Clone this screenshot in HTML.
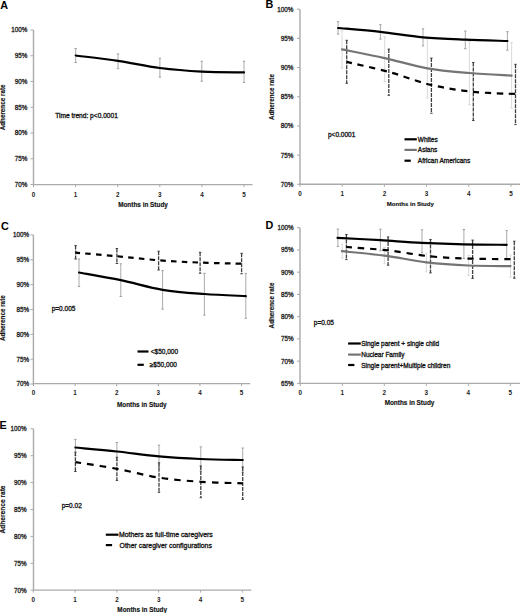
<!DOCTYPE html>
<html><head><meta charset="utf-8"><title>Adherence rate charts</title>
<style>
html,body{margin:0;padding:0;background:#fff;}
body{width:520px;height:613px;overflow:hidden;}
svg{display:block;}
text{font-family:"Liberation Sans", sans-serif;}
</style></head><body>
<svg width="520" height="613" viewBox="0 0 520 613">
<rect width="520" height="613" fill="#fff"/>
<line x1="33.5" y1="30" x2="33.5" y2="184.6" stroke="#aaaaaa" stroke-width="1.4"/>
<line x1="30.5" y1="30" x2="33.5" y2="30" stroke="#aaaaaa" stroke-width="1"/>
<text x="27.3" y="32.43" font-size="6.3" font-weight="400" text-anchor="end" fill="#222" stroke="#222" stroke-width="0.3" >100%</text>
<line x1="30.5" y1="55.75" x2="33.5" y2="55.75" stroke="#aaaaaa" stroke-width="1"/>
<text x="27.3" y="58.18" font-size="6.3" font-weight="400" text-anchor="end" fill="#222" stroke="#222" stroke-width="0.3" >95%</text>
<line x1="30.5" y1="81.5" x2="33.5" y2="81.5" stroke="#aaaaaa" stroke-width="1"/>
<text x="27.3" y="83.93" font-size="6.3" font-weight="400" text-anchor="end" fill="#222" stroke="#222" stroke-width="0.3" >90%</text>
<line x1="30.5" y1="107.25" x2="33.5" y2="107.25" stroke="#aaaaaa" stroke-width="1"/>
<text x="27.3" y="109.68" font-size="6.3" font-weight="400" text-anchor="end" fill="#222" stroke="#222" stroke-width="0.3" >85%</text>
<line x1="30.5" y1="133" x2="33.5" y2="133" stroke="#aaaaaa" stroke-width="1"/>
<text x="27.3" y="135.43" font-size="6.3" font-weight="400" text-anchor="end" fill="#222" stroke="#222" stroke-width="0.3" >80%</text>
<line x1="30.5" y1="158.75" x2="33.5" y2="158.75" stroke="#aaaaaa" stroke-width="1"/>
<text x="27.3" y="161.18" font-size="6.3" font-weight="400" text-anchor="end" fill="#222" stroke="#222" stroke-width="0.3" >75%</text>
<line x1="30.5" y1="184.5" x2="33.5" y2="184.5" stroke="#aaaaaa" stroke-width="1"/>
<text x="27.3" y="186.93" font-size="6.3" font-weight="400" text-anchor="end" fill="#222" stroke="#222" stroke-width="0.3" >70%</text>
<line x1="32.8" y1="184.6" x2="252.5" y2="184.6" stroke="#aaaaaa" stroke-width="1.4"/>
<line x1="33.5" y1="184.6" x2="33.5" y2="187.1" stroke="#aaaaaa" stroke-width="1"/>
<text x="33.5" y="196.63" font-size="6.3" font-weight="700" text-anchor="middle" fill="#222" >0</text>
<line x1="75.6" y1="184.6" x2="75.6" y2="187.1" stroke="#aaaaaa" stroke-width="1"/>
<text x="75.6" y="196.63" font-size="6.3" font-weight="700" text-anchor="middle" fill="#222" >1</text>
<line x1="117.7" y1="184.6" x2="117.7" y2="187.1" stroke="#aaaaaa" stroke-width="1"/>
<text x="117.7" y="196.63" font-size="6.3" font-weight="700" text-anchor="middle" fill="#222" >2</text>
<line x1="159.8" y1="184.6" x2="159.8" y2="187.1" stroke="#aaaaaa" stroke-width="1"/>
<text x="159.8" y="196.63" font-size="6.3" font-weight="700" text-anchor="middle" fill="#222" >3</text>
<line x1="201.9" y1="184.6" x2="201.9" y2="187.1" stroke="#aaaaaa" stroke-width="1"/>
<text x="201.9" y="196.63" font-size="6.3" font-weight="700" text-anchor="middle" fill="#222" >4</text>
<line x1="244" y1="184.6" x2="244" y2="187.1" stroke="#aaaaaa" stroke-width="1"/>
<text x="244" y="196.63" font-size="6.3" font-weight="700" text-anchor="middle" fill="#222" >5</text>
<text x="143" y="206.66" font-size="6.4" font-weight="700" text-anchor="middle" fill="#111" stroke="#111" stroke-width="0.15" >Months in Study</text>
<text transform="translate(5.37,107.4) rotate(-90)" font-size="6.3" font-weight="700" text-anchor="middle" fill="#111" stroke="#111" stroke-width="0.15">Adherence rate</text>
<text x="0.3" y="8.6" font-size="10.8" font-weight="700" fill="#000">A</text>
<line x1="75.7" y1="48.5" x2="75.7" y2="62.5" stroke="#a0a0a0" stroke-width="0.9" />
<line x1="74.5" y1="48.5" x2="76.9" y2="48.5" stroke="#a0a0a0" stroke-width="1"/>
<line x1="74.5" y1="62.5" x2="76.9" y2="62.5" stroke="#a0a0a0" stroke-width="1"/>
<line x1="118" y1="53.9" x2="118" y2="68.7" stroke="#a0a0a0" stroke-width="0.9" />
<line x1="116.8" y1="53.9" x2="119.2" y2="53.9" stroke="#a0a0a0" stroke-width="1"/>
<line x1="116.8" y1="68.7" x2="119.2" y2="68.7" stroke="#a0a0a0" stroke-width="1"/>
<line x1="159.9" y1="58.3" x2="159.9" y2="77.2" stroke="#a0a0a0" stroke-width="0.9" />
<line x1="158.7" y1="58.3" x2="161.1" y2="58.3" stroke="#a0a0a0" stroke-width="1"/>
<line x1="158.7" y1="77.2" x2="161.1" y2="77.2" stroke="#a0a0a0" stroke-width="1"/>
<line x1="201.8" y1="61.3" x2="201.8" y2="81.2" stroke="#a0a0a0" stroke-width="0.9" />
<line x1="200.6" y1="61.3" x2="203" y2="61.3" stroke="#a0a0a0" stroke-width="1"/>
<line x1="200.6" y1="81.2" x2="203" y2="81.2" stroke="#a0a0a0" stroke-width="1"/>
<line x1="244" y1="61.3" x2="244" y2="82.5" stroke="#a0a0a0" stroke-width="0.9" />
<line x1="242.8" y1="61.3" x2="245.2" y2="61.3" stroke="#a0a0a0" stroke-width="1"/>
<line x1="242.8" y1="82.5" x2="245.2" y2="82.5" stroke="#a0a0a0" stroke-width="1"/>
<path d="M75.7,55.5 C82.75,56.4 103.97,58.82 118,60.9 C132.03,62.98 145.93,66.22 159.9,68 C173.87,69.78 187.78,70.87 201.8,71.6 C215.82,72.33 236.97,72.27 244,72.4" fill="none" stroke="#000" stroke-width="2.2"  stroke-linecap="round"/>
<text x="55.2" y="118.14" font-size="6.6" font-weight="400" text-anchor="start" fill="#111" stroke="#111" stroke-width="0.3" >Time trend: p&lt;0.0001</text>
<line x1="300" y1="9.2" x2="300" y2="184.3" stroke="#aaaaaa" stroke-width="1.4"/>
<line x1="297" y1="9.2" x2="300" y2="9.2" stroke="#aaaaaa" stroke-width="1"/>
<text x="293.4" y="11.63" font-size="6.3" font-weight="400" text-anchor="end" fill="#222" stroke="#222" stroke-width="0.3" >100%</text>
<line x1="297" y1="38.38" x2="300" y2="38.38" stroke="#aaaaaa" stroke-width="1"/>
<text x="293.4" y="40.81" font-size="6.3" font-weight="400" text-anchor="end" fill="#222" stroke="#222" stroke-width="0.3" >95%</text>
<line x1="297" y1="67.56" x2="300" y2="67.56" stroke="#aaaaaa" stroke-width="1"/>
<text x="293.4" y="69.99" font-size="6.3" font-weight="400" text-anchor="end" fill="#222" stroke="#222" stroke-width="0.3" >90%</text>
<line x1="297" y1="96.74" x2="300" y2="96.74" stroke="#aaaaaa" stroke-width="1"/>
<text x="293.4" y="99.17" font-size="6.3" font-weight="400" text-anchor="end" fill="#222" stroke="#222" stroke-width="0.3" >85%</text>
<line x1="297" y1="125.92" x2="300" y2="125.92" stroke="#aaaaaa" stroke-width="1"/>
<text x="293.4" y="128.35" font-size="6.3" font-weight="400" text-anchor="end" fill="#222" stroke="#222" stroke-width="0.3" >80%</text>
<line x1="297" y1="155.1" x2="300" y2="155.1" stroke="#aaaaaa" stroke-width="1"/>
<text x="293.4" y="157.53" font-size="6.3" font-weight="400" text-anchor="end" fill="#222" stroke="#222" stroke-width="0.3" >75%</text>
<line x1="297" y1="184.28" x2="300" y2="184.28" stroke="#aaaaaa" stroke-width="1"/>
<text x="293.4" y="186.71" font-size="6.3" font-weight="400" text-anchor="end" fill="#222" stroke="#222" stroke-width="0.3" >70%</text>
<line x1="299.3" y1="184.3" x2="520" y2="184.3" stroke="#aaaaaa" stroke-width="1.4"/>
<line x1="300" y1="184.3" x2="300" y2="186.8" stroke="#aaaaaa" stroke-width="1"/>
<text x="300" y="195.83" font-size="6.3" font-weight="700" text-anchor="middle" fill="#222" >0</text>
<line x1="342.2" y1="184.3" x2="342.2" y2="186.8" stroke="#aaaaaa" stroke-width="1"/>
<text x="342.2" y="195.83" font-size="6.3" font-weight="700" text-anchor="middle" fill="#222" >1</text>
<line x1="384.4" y1="184.3" x2="384.4" y2="186.8" stroke="#aaaaaa" stroke-width="1"/>
<text x="384.4" y="195.83" font-size="6.3" font-weight="700" text-anchor="middle" fill="#222" >2</text>
<line x1="426.6" y1="184.3" x2="426.6" y2="186.8" stroke="#aaaaaa" stroke-width="1"/>
<text x="426.6" y="195.83" font-size="6.3" font-weight="700" text-anchor="middle" fill="#222" >3</text>
<line x1="468.8" y1="184.3" x2="468.8" y2="186.8" stroke="#aaaaaa" stroke-width="1"/>
<text x="468.8" y="195.83" font-size="6.3" font-weight="700" text-anchor="middle" fill="#222" >4</text>
<line x1="511" y1="184.3" x2="511" y2="186.8" stroke="#aaaaaa" stroke-width="1"/>
<text x="511" y="195.83" font-size="6.3" font-weight="700" text-anchor="middle" fill="#222" >5</text>
<text x="410.3" y="206.13" font-size="6.05" font-weight="700" text-anchor="middle" fill="#111" stroke="#111" stroke-width="0.15" >Months in Study</text>
<text transform="translate(274.37,97) rotate(-90)" font-size="6.3" font-weight="700" text-anchor="middle" fill="#111" stroke="#111" stroke-width="0.15">Adherence rate</text>
<text x="265.6" y="8.2" font-size="10.8" font-weight="700" fill="#000">B</text>
<line x1="338.1" y1="21.7" x2="338.1" y2="34.1" stroke="#a0a0a0" stroke-width="0.9" />
<line x1="336.9" y1="21.7" x2="339.3" y2="21.7" stroke="#a0a0a0" stroke-width="1"/>
<line x1="336.9" y1="34.1" x2="339.3" y2="34.1" stroke="#a0a0a0" stroke-width="1"/>
<line x1="380.4" y1="24.7" x2="380.4" y2="39.1" stroke="#a0a0a0" stroke-width="0.9" />
<line x1="379.2" y1="24.7" x2="381.6" y2="24.7" stroke="#a0a0a0" stroke-width="1"/>
<line x1="379.2" y1="39.1" x2="381.6" y2="39.1" stroke="#a0a0a0" stroke-width="1"/>
<line x1="423" y1="28.8" x2="423" y2="45.9" stroke="#a0a0a0" stroke-width="0.9" />
<line x1="421.8" y1="28.8" x2="424.2" y2="28.8" stroke="#a0a0a0" stroke-width="1"/>
<line x1="421.8" y1="45.9" x2="424.2" y2="45.9" stroke="#a0a0a0" stroke-width="1"/>
<line x1="465.3" y1="31.1" x2="465.3" y2="48.7" stroke="#a0a0a0" stroke-width="0.9" />
<line x1="464.1" y1="31.1" x2="466.5" y2="31.1" stroke="#a0a0a0" stroke-width="1"/>
<line x1="464.1" y1="48.7" x2="466.5" y2="48.7" stroke="#a0a0a0" stroke-width="1"/>
<line x1="507.4" y1="31.7" x2="507.4" y2="50.2" stroke="#a0a0a0" stroke-width="0.9" />
<line x1="506.2" y1="31.7" x2="508.6" y2="31.7" stroke="#a0a0a0" stroke-width="1"/>
<line x1="506.2" y1="50.2" x2="508.6" y2="50.2" stroke="#a0a0a0" stroke-width="1"/>
<line x1="342" y1="30.9" x2="342" y2="68" stroke="#d6d6d6" stroke-width="0.9" />
<line x1="340.8" y1="30.9" x2="343.2" y2="30.9" stroke="#d6d6d6" stroke-width="1"/>
<line x1="340.8" y1="68" x2="343.2" y2="68" stroke="#d6d6d6" stroke-width="1"/>
<line x1="384.7" y1="36.9" x2="384.7" y2="81.4" stroke="#d6d6d6" stroke-width="0.9" />
<line x1="383.5" y1="36.9" x2="385.9" y2="36.9" stroke="#d6d6d6" stroke-width="1"/>
<line x1="383.5" y1="81.4" x2="385.9" y2="81.4" stroke="#d6d6d6" stroke-width="1"/>
<line x1="427.4" y1="38.7" x2="427.4" y2="98" stroke="#d6d6d6" stroke-width="0.9" />
<line x1="426.2" y1="38.7" x2="428.6" y2="38.7" stroke="#d6d6d6" stroke-width="1"/>
<line x1="426.2" y1="98" x2="428.6" y2="98" stroke="#d6d6d6" stroke-width="1"/>
<line x1="469.4" y1="41.5" x2="469.4" y2="104.7" stroke="#d6d6d6" stroke-width="0.9" />
<line x1="468.2" y1="41.5" x2="470.6" y2="41.5" stroke="#d6d6d6" stroke-width="1"/>
<line x1="468.2" y1="104.7" x2="470.6" y2="104.7" stroke="#d6d6d6" stroke-width="1"/>
<line x1="511.6" y1="42.4" x2="511.6" y2="108" stroke="#d6d6d6" stroke-width="0.9" />
<line x1="510.4" y1="42.4" x2="512.8" y2="42.4" stroke="#d6d6d6" stroke-width="1"/>
<line x1="510.4" y1="108" x2="512.8" y2="108" stroke="#d6d6d6" stroke-width="1"/>
<line x1="346.7" y1="40.3" x2="346.7" y2="83.3" stroke="#404040" stroke-width="1.3" stroke-dasharray="4 1"/>
<line x1="345.5" y1="40.3" x2="347.9" y2="40.3" stroke="#404040" stroke-width="1"/>
<line x1="345.5" y1="83.3" x2="347.9" y2="83.3" stroke="#404040" stroke-width="1"/>
<line x1="388.8" y1="49.1" x2="388.8" y2="95.3" stroke="#404040" stroke-width="1.3" stroke-dasharray="4 1"/>
<line x1="387.6" y1="49.1" x2="390" y2="49.1" stroke="#404040" stroke-width="1"/>
<line x1="387.6" y1="95.3" x2="390" y2="95.3" stroke="#404040" stroke-width="1"/>
<line x1="431.4" y1="58.1" x2="431.4" y2="113.2" stroke="#404040" stroke-width="1.3" stroke-dasharray="4 1"/>
<line x1="430.2" y1="58.1" x2="432.6" y2="58.1" stroke="#404040" stroke-width="1"/>
<line x1="430.2" y1="113.2" x2="432.6" y2="113.2" stroke="#404040" stroke-width="1"/>
<line x1="473.3" y1="62.5" x2="473.3" y2="120.5" stroke="#404040" stroke-width="1.3" stroke-dasharray="4 1"/>
<line x1="472.1" y1="62.5" x2="474.5" y2="62.5" stroke="#404040" stroke-width="1"/>
<line x1="472.1" y1="120.5" x2="474.5" y2="120.5" stroke="#404040" stroke-width="1"/>
<line x1="515.5" y1="64.3" x2="515.5" y2="124.6" stroke="#404040" stroke-width="1.3" stroke-dasharray="4 1"/>
<line x1="514.3" y1="64.3" x2="516.7" y2="64.3" stroke="#404040" stroke-width="1"/>
<line x1="514.3" y1="124.6" x2="516.7" y2="124.6" stroke="#404040" stroke-width="1"/>
<path d="M338.1,28 C345.15,28.65 366.25,30.35 380.4,31.9 C394.55,33.45 408.85,36 423,37.3 C437.15,38.6 451.23,39.08 465.3,39.7 C479.37,40.32 500.38,40.78 507.4,41" fill="none" stroke="#000" stroke-width="2.2"  stroke-linecap="round"/>
<path d="M342,49.4 C349.12,50.85 370.47,54.95 384.7,58.1 C398.93,61.25 413.28,65.82 427.4,68.3 C441.52,70.78 455.37,71.78 469.4,73 C483.43,74.22 504.57,75.17 511.6,75.6" fill="none" stroke="#747474" stroke-width="2.2"  stroke-linecap="round"/>
<path d="M346.7,61.9 C353.72,63.57 374.68,68.05 388.8,71.9 C402.92,75.75 417.32,81.68 431.4,85 C445.48,88.32 459.28,90.3 473.3,91.8 C487.32,93.3 508.47,93.63 515.5,94" fill="none" stroke="#000" stroke-width="2.2" stroke-dasharray="6.2 5.69" stroke-dashoffset="0.73" />
<line x1="404.5" y1="139.3" x2="416.8" y2="139.3" stroke="#000" stroke-width="2.2"/>
<text x="417.8" y="141.8" font-size="6.5" font-weight="400" text-anchor="start" fill="#111" stroke="#111" stroke-width="0.3" >Whites</text>
<line x1="404.5" y1="149.9" x2="416.8" y2="149.9" stroke="#747474" stroke-width="2.2"/>
<text x="417.8" y="152.4" font-size="6.5" font-weight="400" text-anchor="start" fill="#111" stroke="#111" stroke-width="0.3" >Asians</text>
<line x1="404.5" y1="160.7" x2="410.8" y2="160.7" stroke="#000" stroke-width="2.2"/>
<text x="417.8" y="163.2" font-size="6.5" font-weight="400" text-anchor="start" fill="#111" stroke="#111" stroke-width="0.3" >African Americans</text>
<text x="328" y="137.2" font-size="6.5" font-weight="400" text-anchor="start" fill="#111" stroke="#111" stroke-width="0.3" >p&lt;0.0001</text>
<line x1="33.4" y1="234.9" x2="33.4" y2="383.6" stroke="#aaaaaa" stroke-width="1.4"/>
<line x1="30.4" y1="234.9" x2="33.4" y2="234.9" stroke="#aaaaaa" stroke-width="1"/>
<text x="29.1" y="237.33" font-size="6.3" font-weight="400" text-anchor="end" fill="#222" stroke="#222" stroke-width="0.3" >100%</text>
<line x1="30.4" y1="259.75" x2="33.4" y2="259.75" stroke="#aaaaaa" stroke-width="1"/>
<text x="29.1" y="262.18" font-size="6.3" font-weight="400" text-anchor="end" fill="#222" stroke="#222" stroke-width="0.3" >95%</text>
<line x1="30.4" y1="284.6" x2="33.4" y2="284.6" stroke="#aaaaaa" stroke-width="1"/>
<text x="29.1" y="287.03" font-size="6.3" font-weight="400" text-anchor="end" fill="#222" stroke="#222" stroke-width="0.3" >90%</text>
<line x1="30.4" y1="309.45" x2="33.4" y2="309.45" stroke="#aaaaaa" stroke-width="1"/>
<text x="29.1" y="311.88" font-size="6.3" font-weight="400" text-anchor="end" fill="#222" stroke="#222" stroke-width="0.3" >85%</text>
<line x1="30.4" y1="334.3" x2="33.4" y2="334.3" stroke="#aaaaaa" stroke-width="1"/>
<text x="29.1" y="336.73" font-size="6.3" font-weight="400" text-anchor="end" fill="#222" stroke="#222" stroke-width="0.3" >80%</text>
<line x1="30.4" y1="359.15" x2="33.4" y2="359.15" stroke="#aaaaaa" stroke-width="1"/>
<text x="29.1" y="361.58" font-size="6.3" font-weight="400" text-anchor="end" fill="#222" stroke="#222" stroke-width="0.3" >75%</text>
<line x1="30.4" y1="384" x2="33.4" y2="384" stroke="#aaaaaa" stroke-width="1"/>
<text x="29.1" y="386.43" font-size="6.3" font-weight="400" text-anchor="end" fill="#222" stroke="#222" stroke-width="0.3" >70%</text>
<line x1="32.699999999999996" y1="383.6" x2="250.2" y2="383.6" stroke="#aaaaaa" stroke-width="1.4"/>
<line x1="33.5" y1="383.6" x2="33.5" y2="386.1" stroke="#aaaaaa" stroke-width="1"/>
<text x="33.5" y="394.53" font-size="6.3" font-weight="700" text-anchor="middle" fill="#222" >0</text>
<line x1="75.1" y1="383.6" x2="75.1" y2="386.1" stroke="#aaaaaa" stroke-width="1"/>
<text x="75.1" y="394.53" font-size="6.3" font-weight="700" text-anchor="middle" fill="#222" >1</text>
<line x1="116.7" y1="383.6" x2="116.7" y2="386.1" stroke="#aaaaaa" stroke-width="1"/>
<text x="116.7" y="394.53" font-size="6.3" font-weight="700" text-anchor="middle" fill="#222" >2</text>
<line x1="158.3" y1="383.6" x2="158.3" y2="386.1" stroke="#aaaaaa" stroke-width="1"/>
<text x="158.3" y="394.53" font-size="6.3" font-weight="700" text-anchor="middle" fill="#222" >3</text>
<line x1="199.9" y1="383.6" x2="199.9" y2="386.1" stroke="#aaaaaa" stroke-width="1"/>
<text x="199.9" y="394.53" font-size="6.3" font-weight="700" text-anchor="middle" fill="#222" >4</text>
<line x1="241.5" y1="383.6" x2="241.5" y2="386.1" stroke="#aaaaaa" stroke-width="1"/>
<text x="241.5" y="394.53" font-size="6.3" font-weight="700" text-anchor="middle" fill="#222" >5</text>
<text x="141.8" y="406.66" font-size="6.4" font-weight="700" text-anchor="middle" fill="#111" stroke="#111" stroke-width="0.15" >Months in Study</text>
<text transform="translate(5.37,318.2) rotate(-90)" font-size="6.3" font-weight="700" text-anchor="middle" fill="#111" stroke="#111" stroke-width="0.15">Adherence rate</text>
<text x="1.0" y="229.8" font-size="10.8" font-weight="700" fill="#000">C</text>
<line x1="79" y1="259" x2="79" y2="286.5" stroke="#a0a0a0" stroke-width="0.9" />
<line x1="77.8" y1="259" x2="80.2" y2="259" stroke="#a0a0a0" stroke-width="1"/>
<line x1="77.8" y1="286.5" x2="80.2" y2="286.5" stroke="#a0a0a0" stroke-width="1"/>
<line x1="120.8" y1="263.8" x2="120.8" y2="296.5" stroke="#a0a0a0" stroke-width="0.9" />
<line x1="119.6" y1="263.8" x2="122" y2="263.8" stroke="#a0a0a0" stroke-width="1"/>
<line x1="119.6" y1="296.5" x2="122" y2="296.5" stroke="#a0a0a0" stroke-width="1"/>
<line x1="162.6" y1="270.6" x2="162.6" y2="309.2" stroke="#a0a0a0" stroke-width="0.9" />
<line x1="161.4" y1="270.6" x2="163.8" y2="270.6" stroke="#a0a0a0" stroke-width="1"/>
<line x1="161.4" y1="309.2" x2="163.8" y2="309.2" stroke="#a0a0a0" stroke-width="1"/>
<line x1="204.4" y1="273.4" x2="204.4" y2="315.1" stroke="#a0a0a0" stroke-width="0.9" />
<line x1="203.2" y1="273.4" x2="205.6" y2="273.4" stroke="#a0a0a0" stroke-width="1"/>
<line x1="203.2" y1="315.1" x2="205.6" y2="315.1" stroke="#a0a0a0" stroke-width="1"/>
<line x1="245.8" y1="273.4" x2="245.8" y2="318.3" stroke="#a0a0a0" stroke-width="0.9" />
<line x1="244.6" y1="273.4" x2="247" y2="273.4" stroke="#a0a0a0" stroke-width="1"/>
<line x1="244.6" y1="318.3" x2="247" y2="318.3" stroke="#a0a0a0" stroke-width="1"/>
<line x1="75.6" y1="245.6" x2="75.6" y2="259" stroke="#404040" stroke-width="1.3" stroke-dasharray="4 1"/>
<line x1="74.4" y1="245.6" x2="76.8" y2="245.6" stroke="#404040" stroke-width="1"/>
<line x1="74.4" y1="259" x2="76.8" y2="259" stroke="#404040" stroke-width="1"/>
<line x1="116.9" y1="248.5" x2="116.9" y2="263.5" stroke="#404040" stroke-width="1.3" stroke-dasharray="4 1"/>
<line x1="115.7" y1="248.5" x2="118.1" y2="248.5" stroke="#404040" stroke-width="1"/>
<line x1="115.7" y1="263.5" x2="118.1" y2="263.5" stroke="#404040" stroke-width="1"/>
<line x1="158.6" y1="251.2" x2="158.6" y2="270" stroke="#404040" stroke-width="1.3" stroke-dasharray="4 1"/>
<line x1="157.4" y1="251.2" x2="159.8" y2="251.2" stroke="#404040" stroke-width="1"/>
<line x1="157.4" y1="270" x2="159.8" y2="270" stroke="#404040" stroke-width="1"/>
<line x1="200.1" y1="252.3" x2="200.1" y2="273.2" stroke="#404040" stroke-width="1.3" stroke-dasharray="4 1"/>
<line x1="198.9" y1="252.3" x2="201.3" y2="252.3" stroke="#404040" stroke-width="1"/>
<line x1="198.9" y1="273.2" x2="201.3" y2="273.2" stroke="#404040" stroke-width="1"/>
<line x1="241.6" y1="253.3" x2="241.6" y2="273.8" stroke="#404040" stroke-width="1.3" stroke-dasharray="4 1"/>
<line x1="240.4" y1="253.3" x2="242.8" y2="253.3" stroke="#404040" stroke-width="1"/>
<line x1="240.4" y1="273.8" x2="242.8" y2="273.8" stroke="#404040" stroke-width="1"/>
<path d="M79,272.5 C85.97,273.78 106.87,277.32 120.8,280.2 C134.73,283.08 148.67,287.5 162.6,289.8 C176.53,292.1 190.53,292.95 204.4,294 C218.27,295.05 238.9,295.75 245.8,296.1" fill="none" stroke="#000" stroke-width="2.2"  stroke-linecap="round"/>
<path d="M75.6,252.7 C82.48,253.28 103.07,254.93 116.9,256.2 C130.73,257.47 144.73,259.23 158.6,260.3 C172.47,261.37 186.27,262.03 200.1,262.6 C213.93,263.17 234.68,263.52 241.6,263.7" fill="none" stroke="#000" stroke-width="2.2" stroke-dasharray="5.5 5.25" stroke-dashoffset="0.95" />
<line x1="137.5" y1="351.5" x2="148.5" y2="351.5" stroke="#000" stroke-width="2.2"/>
<text x="150.8" y="354" font-size="6.5" font-weight="400" text-anchor="start" fill="#111" stroke="#111" stroke-width="0.3" >&lt;$50,000</text>
<line x1="137.5" y1="364.8" x2="143.8" y2="364.8" stroke="#000" stroke-width="2.2"/>
<text x="149.8" y="367.3" font-size="6.5" font-weight="400" text-anchor="start" fill="#111" stroke="#111" stroke-width="0.3" >≥$50,000</text>
<text x="51.7" y="310.8" font-size="6.5" font-weight="400" text-anchor="start" fill="#111" stroke="#111" stroke-width="0.3" >p=0.005</text>
<line x1="300" y1="227.7" x2="300" y2="383.4" stroke="#aaaaaa" stroke-width="1.4"/>
<line x1="297" y1="227.7" x2="300" y2="227.7" stroke="#aaaaaa" stroke-width="1"/>
<text x="293.7" y="230.13" font-size="6.3" font-weight="400" text-anchor="end" fill="#222" stroke="#222" stroke-width="0.3" >100%</text>
<line x1="297" y1="249.94" x2="300" y2="249.94" stroke="#aaaaaa" stroke-width="1"/>
<text x="293.7" y="252.37" font-size="6.3" font-weight="400" text-anchor="end" fill="#222" stroke="#222" stroke-width="0.3" >95%</text>
<line x1="297" y1="272.18" x2="300" y2="272.18" stroke="#aaaaaa" stroke-width="1"/>
<text x="293.7" y="274.61" font-size="6.3" font-weight="400" text-anchor="end" fill="#222" stroke="#222" stroke-width="0.3" >90%</text>
<line x1="297" y1="294.42" x2="300" y2="294.42" stroke="#aaaaaa" stroke-width="1"/>
<text x="293.7" y="296.85" font-size="6.3" font-weight="400" text-anchor="end" fill="#222" stroke="#222" stroke-width="0.3" >85%</text>
<line x1="297" y1="316.66" x2="300" y2="316.66" stroke="#aaaaaa" stroke-width="1"/>
<text x="293.7" y="319.09" font-size="6.3" font-weight="400" text-anchor="end" fill="#222" stroke="#222" stroke-width="0.3" >80%</text>
<line x1="297" y1="338.9" x2="300" y2="338.9" stroke="#aaaaaa" stroke-width="1"/>
<text x="293.7" y="341.33" font-size="6.3" font-weight="400" text-anchor="end" fill="#222" stroke="#222" stroke-width="0.3" >75%</text>
<line x1="297" y1="361.14" x2="300" y2="361.14" stroke="#aaaaaa" stroke-width="1"/>
<text x="293.7" y="363.57" font-size="6.3" font-weight="400" text-anchor="end" fill="#222" stroke="#222" stroke-width="0.3" >70%</text>
<line x1="297" y1="383.38" x2="300" y2="383.38" stroke="#aaaaaa" stroke-width="1"/>
<text x="293.7" y="385.81" font-size="6.3" font-weight="400" text-anchor="end" fill="#222" stroke="#222" stroke-width="0.3" >65%</text>
<line x1="299.3" y1="383.4" x2="520" y2="383.4" stroke="#aaaaaa" stroke-width="1.4"/>
<line x1="300.3" y1="383.4" x2="300.3" y2="385.9" stroke="#aaaaaa" stroke-width="1"/>
<text x="300.3" y="394.83" font-size="6.3" font-weight="700" text-anchor="middle" fill="#222" >0</text>
<line x1="342.3" y1="383.4" x2="342.3" y2="385.9" stroke="#aaaaaa" stroke-width="1"/>
<text x="342.3" y="394.83" font-size="6.3" font-weight="700" text-anchor="middle" fill="#222" >1</text>
<line x1="384.3" y1="383.4" x2="384.3" y2="385.9" stroke="#aaaaaa" stroke-width="1"/>
<text x="384.3" y="394.83" font-size="6.3" font-weight="700" text-anchor="middle" fill="#222" >2</text>
<line x1="426.3" y1="383.4" x2="426.3" y2="385.9" stroke="#aaaaaa" stroke-width="1"/>
<text x="426.3" y="394.83" font-size="6.3" font-weight="700" text-anchor="middle" fill="#222" >3</text>
<line x1="468.3" y1="383.4" x2="468.3" y2="385.9" stroke="#aaaaaa" stroke-width="1"/>
<text x="468.3" y="394.83" font-size="6.3" font-weight="700" text-anchor="middle" fill="#222" >4</text>
<line x1="510.3" y1="383.4" x2="510.3" y2="385.9" stroke="#aaaaaa" stroke-width="1"/>
<text x="510.3" y="394.83" font-size="6.3" font-weight="700" text-anchor="middle" fill="#222" >5</text>
<text x="409.5" y="404.86" font-size="6.4" font-weight="700" text-anchor="middle" fill="#111" stroke="#111" stroke-width="0.15" >Months in Study</text>
<text transform="translate(274.37,305.5) rotate(-90)" font-size="6.3" font-weight="700" text-anchor="middle" fill="#111" stroke="#111" stroke-width="0.15">Adherence rate</text>
<text x="265.6" y="229.3" font-size="10.8" font-weight="700" fill="#000">D</text>
<line x1="337.9" y1="229.1" x2="337.9" y2="246.5" stroke="#a0a0a0" stroke-width="0.9" />
<line x1="336.7" y1="229.1" x2="339.1" y2="229.1" stroke="#a0a0a0" stroke-width="1"/>
<line x1="336.7" y1="246.5" x2="339.1" y2="246.5" stroke="#a0a0a0" stroke-width="1"/>
<line x1="380.4" y1="229.2" x2="380.4" y2="250.8" stroke="#a0a0a0" stroke-width="0.9" />
<line x1="379.2" y1="229.2" x2="381.6" y2="229.2" stroke="#a0a0a0" stroke-width="1"/>
<line x1="379.2" y1="250.8" x2="381.6" y2="250.8" stroke="#a0a0a0" stroke-width="1"/>
<line x1="422" y1="229.8" x2="422" y2="252.8" stroke="#a0a0a0" stroke-width="0.9" />
<line x1="420.8" y1="229.8" x2="423.2" y2="229.8" stroke="#a0a0a0" stroke-width="1"/>
<line x1="420.8" y1="252.8" x2="423.2" y2="252.8" stroke="#a0a0a0" stroke-width="1"/>
<line x1="463.9" y1="229.5" x2="463.9" y2="258.5" stroke="#a0a0a0" stroke-width="0.9" />
<line x1="462.7" y1="229.5" x2="465.1" y2="229.5" stroke="#a0a0a0" stroke-width="1"/>
<line x1="462.7" y1="258.5" x2="465.1" y2="258.5" stroke="#a0a0a0" stroke-width="1"/>
<line x1="506.7" y1="230.6" x2="506.7" y2="259.1" stroke="#a0a0a0" stroke-width="0.9" />
<line x1="505.5" y1="230.6" x2="507.9" y2="230.6" stroke="#a0a0a0" stroke-width="1"/>
<line x1="505.5" y1="259.1" x2="507.9" y2="259.1" stroke="#a0a0a0" stroke-width="1"/>
<line x1="342.2" y1="244.1" x2="342.2" y2="258" stroke="#d6d6d6" stroke-width="0.9" />
<line x1="341" y1="244.1" x2="343.4" y2="244.1" stroke="#d6d6d6" stroke-width="1"/>
<line x1="341" y1="258" x2="343.4" y2="258" stroke="#d6d6d6" stroke-width="1"/>
<line x1="384.4" y1="247.4" x2="384.4" y2="263.8" stroke="#d6d6d6" stroke-width="0.9" />
<line x1="383.2" y1="247.4" x2="385.6" y2="247.4" stroke="#d6d6d6" stroke-width="1"/>
<line x1="383.2" y1="263.8" x2="385.6" y2="263.8" stroke="#d6d6d6" stroke-width="1"/>
<line x1="426.4" y1="253.4" x2="426.4" y2="271.8" stroke="#d6d6d6" stroke-width="0.9" />
<line x1="425.2" y1="253.4" x2="427.6" y2="253.4" stroke="#d6d6d6" stroke-width="1"/>
<line x1="425.2" y1="271.8" x2="427.6" y2="271.8" stroke="#d6d6d6" stroke-width="1"/>
<line x1="468.6" y1="255.6" x2="468.6" y2="275.4" stroke="#d6d6d6" stroke-width="0.9" />
<line x1="467.4" y1="255.6" x2="469.8" y2="255.6" stroke="#d6d6d6" stroke-width="1"/>
<line x1="467.4" y1="275.4" x2="469.8" y2="275.4" stroke="#d6d6d6" stroke-width="1"/>
<line x1="510.5" y1="255.1" x2="510.5" y2="277.1" stroke="#d6d6d6" stroke-width="0.9" />
<line x1="509.3" y1="255.1" x2="511.7" y2="255.1" stroke="#d6d6d6" stroke-width="1"/>
<line x1="509.3" y1="277.1" x2="511.7" y2="277.1" stroke="#d6d6d6" stroke-width="1"/>
<line x1="346.4" y1="234.5" x2="346.4" y2="259.6" stroke="#404040" stroke-width="1.3" stroke-dasharray="4 1"/>
<line x1="345.2" y1="234.5" x2="347.6" y2="234.5" stroke="#404040" stroke-width="1"/>
<line x1="345.2" y1="259.6" x2="347.6" y2="259.6" stroke="#404040" stroke-width="1"/>
<line x1="388.1" y1="236.9" x2="388.1" y2="265.2" stroke="#404040" stroke-width="1.3" stroke-dasharray="4 1"/>
<line x1="386.9" y1="236.9" x2="389.3" y2="236.9" stroke="#404040" stroke-width="1"/>
<line x1="386.9" y1="265.2" x2="389.3" y2="265.2" stroke="#404040" stroke-width="1"/>
<line x1="430.5" y1="239.5" x2="430.5" y2="272.9" stroke="#404040" stroke-width="1.3" stroke-dasharray="4 1"/>
<line x1="429.3" y1="239.5" x2="431.7" y2="239.5" stroke="#404040" stroke-width="1"/>
<line x1="429.3" y1="272.9" x2="431.7" y2="272.9" stroke="#404040" stroke-width="1"/>
<line x1="472.6" y1="240.1" x2="472.6" y2="278.4" stroke="#404040" stroke-width="1.3" stroke-dasharray="4 1"/>
<line x1="471.4" y1="240.1" x2="473.8" y2="240.1" stroke="#404040" stroke-width="1"/>
<line x1="471.4" y1="278.4" x2="473.8" y2="278.4" stroke="#404040" stroke-width="1"/>
<line x1="514.3" y1="241.2" x2="514.3" y2="278.2" stroke="#404040" stroke-width="1.3" stroke-dasharray="4 1"/>
<line x1="513.1" y1="241.2" x2="515.5" y2="241.2" stroke="#404040" stroke-width="1"/>
<line x1="513.1" y1="278.2" x2="515.5" y2="278.2" stroke="#404040" stroke-width="1"/>
<path d="M337.5,237.8 C344.65,238.2 366.32,239.37 380.4,240.2 C394.48,241.03 408.08,242.12 422,242.8 C435.92,243.48 449.78,243.97 463.9,244.3 C478.02,244.63 499.57,244.72 506.7,244.8" fill="none" stroke="#000" stroke-width="2.2"  stroke-linecap="round"/>
<path d="M341.9,251.2 C348.98,251.93 370.32,253.75 384.4,255.6 C398.48,257.45 412.37,260.65 426.4,262.3 C440.43,263.95 454.58,264.87 468.6,265.5 C482.62,266.13 503.52,266 510.5,266.1" fill="none" stroke="#747474" stroke-width="2.2"  stroke-linecap="round"/>
<path d="M346.4,247 C353.35,247.57 374.08,248.83 388.1,250.4 C402.12,251.97 416.42,255.02 430.5,256.4 C444.58,257.78 458.63,258.25 472.6,258.7 C486.57,259.15 507.35,259.03 514.3,259.1" fill="none" stroke="#000" stroke-width="2.2" stroke-dasharray="6.3 5.93" stroke-dashoffset="0.65" />
<line x1="348.1" y1="343.5" x2="360.8" y2="343.5" stroke="#000" stroke-width="2.2"/>
<text x="361.2" y="346" font-size="6.5" font-weight="400" text-anchor="start" fill="#111" stroke="#111" stroke-width="0.3" >Single parent + single child</text>
<line x1="348.1" y1="354.6" x2="360.8" y2="354.6" stroke="#747474" stroke-width="2.2"/>
<text x="361.2" y="357.1" font-size="6.5" font-weight="400" text-anchor="start" fill="#111" stroke="#111" stroke-width="0.3" >Nuclear Family</text>
<line x1="348.1" y1="365" x2="354.40000000000003" y2="365" stroke="#000" stroke-width="2.2"/>
<text x="361.2" y="367.5" font-size="6.5" font-weight="400" text-anchor="start" fill="#111" stroke="#111" stroke-width="0.3" >Single parent+Multiple children</text>
<text x="313.8" y="325" font-size="6.5" font-weight="400" text-anchor="start" fill="#111" stroke="#111" stroke-width="0.3" >p=0.05</text>
<line x1="33.5" y1="428.8" x2="33.5" y2="590.1" stroke="#aaaaaa" stroke-width="1.4"/>
<line x1="30.5" y1="428.8" x2="33.5" y2="428.8" stroke="#aaaaaa" stroke-width="1"/>
<text x="26.7" y="431.23" font-size="6.3" font-weight="400" text-anchor="end" fill="#222" stroke="#222" stroke-width="0.3" >100%</text>
<line x1="30.5" y1="455.7" x2="33.5" y2="455.7" stroke="#aaaaaa" stroke-width="1"/>
<text x="26.7" y="458.13" font-size="6.3" font-weight="400" text-anchor="end" fill="#222" stroke="#222" stroke-width="0.3" >95%</text>
<line x1="30.5" y1="482.6" x2="33.5" y2="482.6" stroke="#aaaaaa" stroke-width="1"/>
<text x="26.7" y="485.03" font-size="6.3" font-weight="400" text-anchor="end" fill="#222" stroke="#222" stroke-width="0.3" >90%</text>
<line x1="30.5" y1="509.5" x2="33.5" y2="509.5" stroke="#aaaaaa" stroke-width="1"/>
<text x="26.7" y="511.93" font-size="6.3" font-weight="400" text-anchor="end" fill="#222" stroke="#222" stroke-width="0.3" >85%</text>
<line x1="30.5" y1="536.4" x2="33.5" y2="536.4" stroke="#aaaaaa" stroke-width="1"/>
<text x="26.7" y="538.83" font-size="6.3" font-weight="400" text-anchor="end" fill="#222" stroke="#222" stroke-width="0.3" >80%</text>
<line x1="30.5" y1="563.3" x2="33.5" y2="563.3" stroke="#aaaaaa" stroke-width="1"/>
<text x="26.7" y="565.73" font-size="6.3" font-weight="400" text-anchor="end" fill="#222" stroke="#222" stroke-width="0.3" >75%</text>
<line x1="30.5" y1="590.2" x2="33.5" y2="590.2" stroke="#aaaaaa" stroke-width="1"/>
<text x="26.7" y="592.63" font-size="6.3" font-weight="400" text-anchor="end" fill="#222" stroke="#222" stroke-width="0.3" >70%</text>
<line x1="32.8" y1="590.1" x2="251.4" y2="590.1" stroke="#aaaaaa" stroke-width="1.4"/>
<line x1="33.3" y1="590.1" x2="33.3" y2="592.6" stroke="#aaaaaa" stroke-width="1"/>
<text x="33.3" y="602.03" font-size="6.3" font-weight="700" text-anchor="middle" fill="#222" >0</text>
<line x1="75.1" y1="590.1" x2="75.1" y2="592.6" stroke="#aaaaaa" stroke-width="1"/>
<text x="75.1" y="602.03" font-size="6.3" font-weight="700" text-anchor="middle" fill="#222" >1</text>
<line x1="116.9" y1="590.1" x2="116.9" y2="592.6" stroke="#aaaaaa" stroke-width="1"/>
<text x="116.9" y="602.03" font-size="6.3" font-weight="700" text-anchor="middle" fill="#222" >2</text>
<line x1="158.7" y1="590.1" x2="158.7" y2="592.6" stroke="#aaaaaa" stroke-width="1"/>
<text x="158.7" y="602.03" font-size="6.3" font-weight="700" text-anchor="middle" fill="#222" >3</text>
<line x1="200.5" y1="590.1" x2="200.5" y2="592.6" stroke="#aaaaaa" stroke-width="1"/>
<text x="200.5" y="602.03" font-size="6.3" font-weight="700" text-anchor="middle" fill="#222" >4</text>
<line x1="242.3" y1="590.1" x2="242.3" y2="592.6" stroke="#aaaaaa" stroke-width="1"/>
<text x="242.3" y="602.03" font-size="6.3" font-weight="700" text-anchor="middle" fill="#222" >5</text>
<text x="142.2" y="611.66" font-size="6.4" font-weight="700" text-anchor="middle" fill="#111" stroke="#111" stroke-width="0.15" >Months in Study</text>
<text transform="translate(5.48,509.5) rotate(-90)" font-size="6.6" font-weight="700" text-anchor="middle" fill="#111" stroke="#111" stroke-width="0.15">Adherence rate</text>
<text x="-0.5" y="429.3" font-size="10.8" font-weight="700" fill="#000">E</text>
<line x1="75.4" y1="439.4" x2="75.4" y2="455.4" stroke="#a0a0a0" stroke-width="0.9" />
<line x1="74.2" y1="439.4" x2="76.6" y2="439.4" stroke="#a0a0a0" stroke-width="1"/>
<line x1="74.2" y1="455.4" x2="76.6" y2="455.4" stroke="#a0a0a0" stroke-width="1"/>
<line x1="116.9" y1="442.5" x2="116.9" y2="460.5" stroke="#a0a0a0" stroke-width="0.9" />
<line x1="115.7" y1="442.5" x2="118.1" y2="442.5" stroke="#a0a0a0" stroke-width="1"/>
<line x1="115.7" y1="460.5" x2="118.1" y2="460.5" stroke="#a0a0a0" stroke-width="1"/>
<line x1="159" y1="445.2" x2="159" y2="467.6" stroke="#a0a0a0" stroke-width="0.9" />
<line x1="157.8" y1="445.2" x2="160.2" y2="445.2" stroke="#a0a0a0" stroke-width="1"/>
<line x1="157.8" y1="467.6" x2="160.2" y2="467.6" stroke="#a0a0a0" stroke-width="1"/>
<line x1="200.8" y1="446.9" x2="200.8" y2="471.1" stroke="#a0a0a0" stroke-width="0.9" />
<line x1="199.6" y1="446.9" x2="202" y2="446.9" stroke="#a0a0a0" stroke-width="1"/>
<line x1="199.6" y1="471.1" x2="202" y2="471.1" stroke="#a0a0a0" stroke-width="1"/>
<line x1="242.7" y1="448" x2="242.7" y2="472" stroke="#a0a0a0" stroke-width="0.9" />
<line x1="241.5" y1="448" x2="243.9" y2="448" stroke="#a0a0a0" stroke-width="1"/>
<line x1="241.5" y1="472" x2="243.9" y2="472" stroke="#a0a0a0" stroke-width="1"/>
<line x1="75.4" y1="452.2" x2="75.4" y2="471.5" stroke="#404040" stroke-width="1.3" stroke-dasharray="4 1"/>
<line x1="74.2" y1="452.2" x2="76.6" y2="452.2" stroke="#404040" stroke-width="1"/>
<line x1="74.2" y1="471.5" x2="76.6" y2="471.5" stroke="#404040" stroke-width="1"/>
<line x1="116.9" y1="457.3" x2="116.9" y2="480.4" stroke="#404040" stroke-width="1.3" stroke-dasharray="4 1"/>
<line x1="115.7" y1="457.3" x2="118.1" y2="457.3" stroke="#404040" stroke-width="1"/>
<line x1="115.7" y1="480.4" x2="118.1" y2="480.4" stroke="#404040" stroke-width="1"/>
<line x1="159" y1="462.8" x2="159" y2="492.4" stroke="#404040" stroke-width="1.3" stroke-dasharray="4 1"/>
<line x1="157.8" y1="462.8" x2="160.2" y2="462.8" stroke="#404040" stroke-width="1"/>
<line x1="157.8" y1="492.4" x2="160.2" y2="492.4" stroke="#404040" stroke-width="1"/>
<line x1="200.8" y1="466" x2="200.8" y2="497.7" stroke="#404040" stroke-width="1.3" stroke-dasharray="4 1"/>
<line x1="199.6" y1="466" x2="202" y2="466" stroke="#404040" stroke-width="1"/>
<line x1="199.6" y1="497.7" x2="202" y2="497.7" stroke="#404040" stroke-width="1"/>
<line x1="242.7" y1="467" x2="242.7" y2="499.4" stroke="#404040" stroke-width="1.3" stroke-dasharray="4 1"/>
<line x1="241.5" y1="467" x2="243.9" y2="467" stroke="#404040" stroke-width="1"/>
<line x1="241.5" y1="499.4" x2="243.9" y2="499.4" stroke="#404040" stroke-width="1"/>
<path d="M75.4,447.5 C82.32,448.17 102.97,450.02 116.9,451.5 C130.83,452.98 145.02,455.15 159,456.4 C172.98,457.65 186.85,458.4 200.8,459 C214.75,459.6 235.72,459.83 242.7,460" fill="none" stroke="#000" stroke-width="2.2"  stroke-linecap="round"/>
<path d="M75.4,462.1 C82.32,463.22 102.97,466.22 116.9,468.8 C130.83,471.38 145.02,475.43 159,477.6 C172.98,479.77 186.85,480.85 200.8,481.8 C214.75,482.75 235.72,483.05 242.7,483.3" fill="none" stroke="#000" stroke-width="2.2" stroke-dasharray="6.5 6.13" stroke-dashoffset="0.66" />
<line x1="105.8" y1="534.7" x2="118.5" y2="534.7" stroke="#000" stroke-width="2.2"/>
<text x="118.9" y="537.36" font-size="6.9" font-weight="400" text-anchor="start" fill="#111" stroke="#111" stroke-width="0.3" >Mothers as full-time caregivers</text>
<line x1="105.8" y1="545.1" x2="112.1" y2="545.1" stroke="#000" stroke-width="2.2"/>
<text x="119.6" y="547.76" font-size="6.9" font-weight="400" text-anchor="start" fill="#111" stroke="#111" stroke-width="0.3" >Other caregiver configurations</text>
<text x="61.7" y="508" font-size="6.5" font-weight="400" text-anchor="start" fill="#111" stroke="#111" stroke-width="0.3" >p=0.02</text>
</svg>
</body></html>
